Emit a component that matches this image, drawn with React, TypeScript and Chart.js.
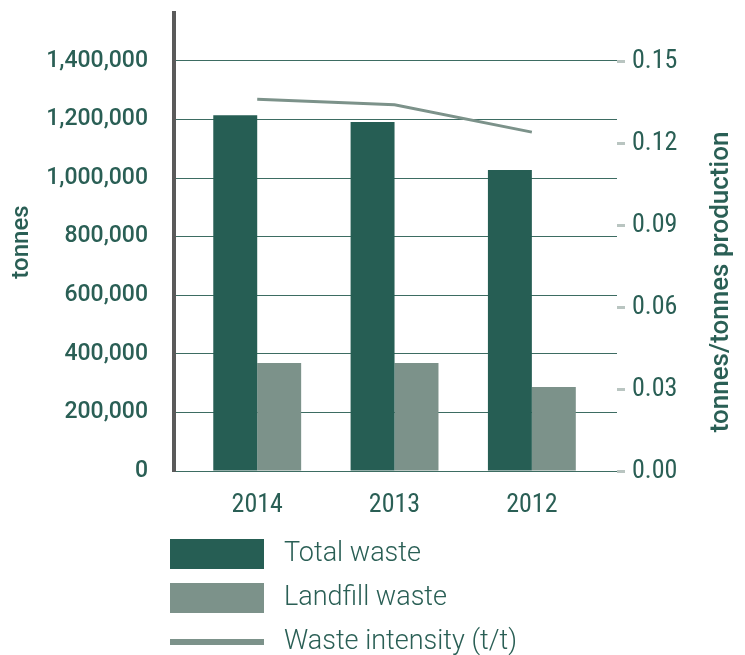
import React, { useEffect, useRef } from "react";
import { Chart, registerables } from "chart.js";

Chart.register(...registerables);

// ---- data ----
const years = ["2014", "2013", "2012"];
const totalWaste = [1215000, 1192000, 1028000];
const landfillWaste = [369000, 369000, 287000];
const wasteIntensity = [0.136, 0.134, 0.124];
const seriesNames = ["Total waste", "Landfill waste", "Waste intensity (t/t)"];
const leftTicks = [0, 200000, 400000, 600000, 800000, 1000000, 1200000, 1400000];
const rightTicks = [0, 0.03, 0.06, 0.09, 0.12, 0.15];
const leftAxisTitle = "tonnes";
const rightAxisTitle = "tonnes/tonnes production";

// ---- styles ----
const DARK = "#265e54";
const LIGHT = "#7c928a";
const TEXT = "#2a5f55";
const GRID = "#3d6c62";
const NARROW = "'Roboto Condensed', 'Liberation Sans Narrow', 'Open Sans Condensed', Roboto, sans-serif";
const SANS = "Roboto, 'Noto Sans', sans-serif";

const noPad = (s: any) => {
  s.paddingTop = 0;
  s.paddingBottom = 0;
  s.paddingLeft = 0;
  s.paddingRight = 0;
};

const extrasPlugin = {
  id: "extras",
  afterDraw(chart: any) {
    const ctx = chart.ctx as CanvasRenderingContext2D;
    const area = chart.chartArea;
    const yR = chart.scales.yR;
    ctx.save();
    // right axis title (reads bottom to top)
    ctx.fillStyle = TEXT;
    ctx.font = `500 26px ${SANS}`;
    ctx.textAlign = "center";
    ctx.textBaseline = "middle";
    ctx.translate(yR.right - 24, (area.top + area.bottom) / 2 + 40);
    ctx.rotate(-Math.PI / 2);
    ctx.fillText(rightAxisTitle, 0, 0);
    ctx.restore();

    // legend
    ctx.save();
    const x0 = area.left - 4;
    const boxW = 94;
    const boxH = 30;
    chart.data.datasets.forEach((ds: any, i: number) => {
      const cy = area.bottom + 83 + i * 44;
      if (ds.type === "line") {
        ctx.fillStyle = ds.borderColor;
        ctx.fillRect(x0, cy - 3, boxW, 6);
      } else {
        ctx.fillStyle = ds.backgroundColor;
        ctx.fillRect(x0, cy - boxH / 2, boxW, boxH);
      }
      ctx.fillStyle = TEXT;
      ctx.font = `300 27px ${SANS}`;
      ctx.textAlign = "left";
      ctx.textBaseline = "middle";
      ctx.fillText(ds.label, x0 + boxW + 20, cy);
    });
    ctx.restore();
  },
};

export default function App() {
  const ref = useRef<HTMLCanvasElement | null>(null);

  useEffect(() => {
    document.body.style.margin = "0";
    if (!ref.current) return;
    const chart = new Chart(ref.current, {
      type: "bar",
      data: {
        labels: years,
        datasets: [
          {
            type: "bar",
            label: seriesNames[0],
            data: totalWaste,
            backgroundColor: DARK,
            categoryPercentage: 0.64,
            barPercentage: 1,
            yAxisID: "y",
            order: 1,
          },
          {
            type: "bar",
            label: seriesNames[1],
            data: landfillWaste,
            backgroundColor: LIGHT,
            categoryPercentage: 0.64,
            barPercentage: 1,
            yAxisID: "y",
            order: 1,
          },
          {
            type: "line",
            label: seriesNames[2],
            data: wasteIntensity,
            borderColor: LIGHT,
            backgroundColor: LIGHT,
            borderWidth: 3,
            pointRadius: 0,
            tension: 0,
            yAxisID: "yR",
            order: 0,
          },
        ],
      } as any,
      options: {
        animation: false,
        responsive: false,
        devicePixelRatio: 1,
        layout: { padding: { top: 13, right: 0, bottom: 0, left: 0 } },
        plugins: {
          legend: { display: false },
          tooltip: { enabled: false },
        },
        scales: {
          x: {
            grid: { display: false, drawTicks: false },
            border: { display: false },
            ticks: {
              color: TEXT,
              font: { family: NARROW, size: 26 },
              padding: 19,
            },
            afterBuildTicks: (s: any) => {
              // category band: slightly wider side margins than the default offset
              s._startValue = -0.606;
              s._valueRange = 3.226;
            },
            afterFit: (s: any) => {
              s.height = 184;
              noPad(s);
            },
          },
          y: {
            position: "left",
            min: 0,
            max: 1563900,
            afterBuildTicks: (s: any) => {
              s.ticks = leftTicks.map((v) => ({ value: v }));
            },
            ticks: {
              color: TEXT,
              font: { family: SANS, size: 23, weight: "500" },
              padding: 26,
              callback: (v: any) => Number(v).toLocaleString("en-US"),
            },
            grid: { color: GRID, lineWidth: 1, drawTicks: false },
            border: { display: true, color: "#5a5a5a", width: 4 },
            title: {
              display: true,
              text: leftAxisTitle,
              color: TEXT,
              font: { family: SANS, size: 24, weight: "500" },
              padding: { top: 8, bottom: 0 },
            },
            afterFit: (s: any) => {
              s.width = 174;
              noPad(s);
            },
          },
          yR: {
            position: "right",
            min: 0,
            max: 0.1676,
            afterBuildTicks: (s: any) => {
              s.ticks = rightTicks.map((v) => ({ value: v }));
            },
            ticks: {
              color: TEXT,
              font: { family: NARROW, size: 26 },
              padding: 7,
              callback: (v: any) => Number(v).toFixed(2),
            },
            grid: {
              drawOnChartArea: false,
              drawTicks: true,
              tickLength: 8,
              tickWidth: 3,
              tickColor: "#b9c5c1",
            },
            border: { display: false },
            afterFit: (s: any) => {
              s.width = 128;
              noPad(s);
            },
          },
        },
      } as any,
      plugins: [extrasPlugin],
    });
    return () => chart.destroy();
  }, []);

  return (
    <div style={{ width: 745, height: 655 }}>
      <canvas ref={ref} width={745} height={655} />
    </div>
  );
}
